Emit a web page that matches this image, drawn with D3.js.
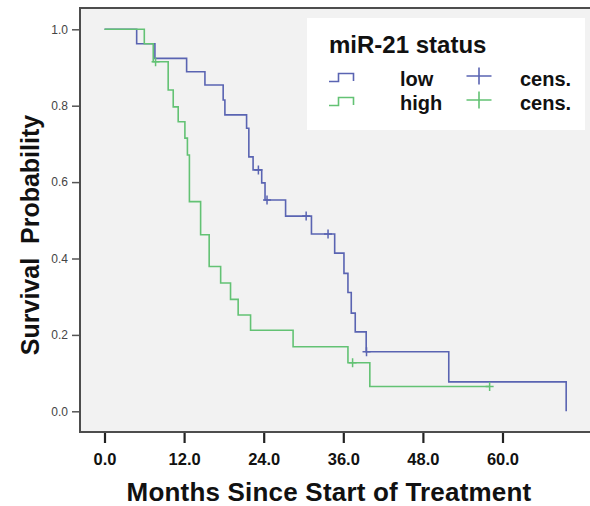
<!DOCTYPE html>
<html>
<head>
<meta charset="utf-8">
<script src="https://cdn.jsdelivr.net/npm/d3@7"></script>
<style>
  html, body { margin: 0; padding: 0; background: #ffffff; }
  svg { display: block; }
  text { font-family: "Liberation Sans", Arial, sans-serif; }
</style>
</head>
<body>
<svg id="chart" width="590" height="506"></svg>
<script>
// ---- data ----
const lowTimes = [0, 4.85, 7.6, 12.38, 15.14, 17.89, 18.15, 21.42, 21.76, 22.4, 23.7, 24.2, 27.3, 31.2, 34.7, 36.1, 36.7, 37.2, 37.8, 39.45, 51.9, 69.6];
const lowSurv  = [1.0, 0.962, 0.924, 0.889, 0.854, 0.815, 0.776, 0.741, 0.666, 0.632, 0.598, 0.553, 0.511, 0.464, 0.414, 0.361, 0.311, 0.257, 0.208, 0.156, 0.077, 0.0];
const lowCensTimes = [23.2, 24.5, 30.4, 33.7, 39.5];
const lowCensSurv  = [0.632, 0.553, 0.511, 0.464, 0.156];

const highTimes = [0, 6.0, 7.35, 9.6, 10.36, 11.11, 12.12, 12.5, 12.8, 14.49, 15.78, 17.51, 19.0, 20.15, 22.02, 28.43, 36.7, 40.0, 58.06];
const highSurv  = [1.0, 0.962, 0.915, 0.841, 0.797, 0.758, 0.715, 0.671, 0.549, 0.462, 0.379, 0.336, 0.293, 0.252, 0.212, 0.169, 0.127, 0.065, 0.065];
const highCensTimes = [7.7, 37.4, 58.06];
const highCensSurv  = [0.915, 0.127, 0.065];

const xTicks = [0, 12, 24, 36, 48, 60];
const yTicks = [0, 0.2, 0.4, 0.6, 0.8, 1.0];
const legendTitle = "miR-21 status";
const groupNames = ["low", "high"];
const censLabel = "cens.";
const xTitle = "Months Since Start of Treatment";
const yTitle = "Survival  Probability";

// ---- layout ----
const blue = "#5a64b2", green = "#63c274";
const frameL = 80, frameT = 8, frameB = 432, frameR = 590;

const svg = d3.select("#chart");
const x = d3.scaleLinear().domain([0, 60]).range([104.5, 502.5]);
const y = d3.scaleLinear().domain([0, 1]).range([411.3, 29.3]);

// plot background
svg.append("rect").attr("x", frameL).attr("y", frameT)
  .attr("width", frameR - frameL).attr("height", frameB - frameT)
  .attr("fill", "#f2f2f2");

// frame lines
svg.append("path")
  .attr("d", `M${frameR},${frameT}H${frameL}V${frameB}H${frameR}`)
  .attr("fill", "none").attr("stroke", "#4d4d4d").attr("stroke-width", 2);

// y axis
const yAxis = svg.append("g").attr("transform", `translate(${frameL - 1},0)`)
  .call(d3.axisLeft(y).tickValues(yTicks).tickFormat(d3.format(".1f")).tickSize(7).tickPadding(4));
yAxis.select(".domain").remove();
yAxis.selectAll(".tick line").attr("stroke", "#555").attr("stroke-width", 1.5);
yAxis.selectAll(".tick text").attr("fill", "#444").style("font-size", "12px")
  .style("font-family", "'Liberation Sans', Arial, sans-serif");

// x axis
const xAxis = svg.append("g").attr("transform", `translate(0,${frameB + 1})`)
  .call(d3.axisBottom(x).tickValues(xTicks).tickFormat(d3.format(".1f")).tickSize(10).tickPadding(10));
xAxis.select(".domain").remove();
xAxis.selectAll(".tick line").attr("stroke", "#222").attr("stroke-width", 2.2);
xAxis.selectAll(".tick text").attr("fill", "#111").style("font-size", "16.5px").style("font-weight", "bold")
  .style("font-family", "'Liberation Sans', Arial, sans-serif");

// curves
const line = d3.line().x(d => x(d[0])).y(d => y(d[1])).curve(d3.curveStepAfter);
const lowPts = lowTimes.map((t, i) => [t, lowSurv[i]]);
const highPts = highTimes.map((t, i) => [t, highSurv[i]]);

svg.append("path").attr("d", line(lowPts)).attr("fill", "none")
  .attr("stroke", blue).attr("stroke-width", 1.6);
svg.append("path").attr("d", line(highPts)).attr("fill", "none")
  .attr("stroke", green).attr("stroke-width", 1.6);

function plus(g, cx, cy, hw, hh, color, sw) {
  g.append("path").attr("d", `M${cx - hw},${cy}H${cx + hw}M${cx},${cy - hh}V${cy + hh}`)
    .attr("stroke", color).attr("stroke-width", sw).attr("fill", "none");
}
lowCensTimes.forEach((t, i) => plus(svg, x(t), y(lowCensSurv[i]), 4, 4.5, blue, 1.5));
highCensTimes.forEach((t, i) => plus(svg, x(t), y(highCensSurv[i]), 4, 4.5, green, 1.5));

// legend
const lg = svg.append("g");
lg.append("rect").attr("x", 307).attr("y", 18).attr("width", 278).attr("height", 112).attr("fill", "#ffffff");
lg.append("text").attr("x", 329).attr("y", 53).text(legendTitle)
  .style("font-size", "24px").style("font-weight", "bold").attr("fill", "#111");
const rowColors = [blue, green];
const rowBase = [86, 110];
groupNames.forEach((name, i) => {
  const b = rowBase[i];
  lg.append("path").attr("d", `M329,${b - 4.5}H338.5V${b - 12.5}H353.5V${b - 5}`)
    .attr("fill", "none").attr("stroke", rowColors[i]).attr("stroke-width", 1.6);
  lg.append("text").attr("x", 400).attr("y", b).text(name)
    .style("font-size", "20px").style("font-weight", "bold").attr("fill", "#111");
  plus(lg, 479, b - 10, 12.5, 8.5, rowColors[i], 1.6);
  lg.append("text").attr("x", 520).attr("y", b).text(censLabel)
    .style("font-size", "20px").style("font-weight", "bold").attr("fill", "#111");
});

// axis titles
svg.append("text").attr("x", 329).attr("y", 501).attr("text-anchor", "middle")
  .text(xTitle).style("font-size", "26px").style("font-weight", "bold")
  .style("letter-spacing", "0.2px").attr("fill", "#111");
svg.append("text").attr("transform", "translate(38.5,235) rotate(-90)").attr("text-anchor", "middle")
  .style("white-space", "pre").attr("xml:space", "preserve")
  .text(yTitle).style("font-size", "25px").style("font-weight", "bold").attr("fill", "#111");
</script>
</body>
</html>
